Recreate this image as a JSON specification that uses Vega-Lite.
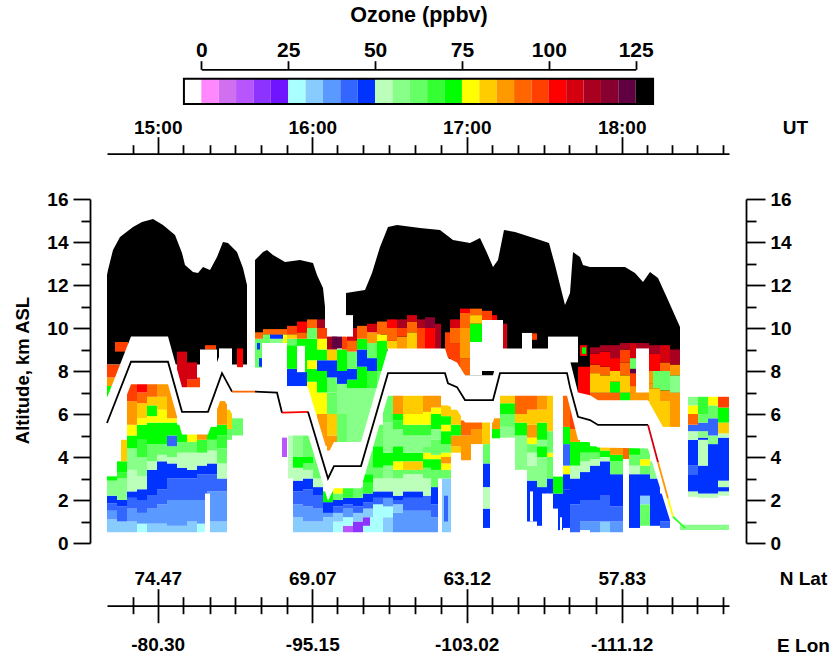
{"$schema":"https://vega.github.io/schema/vega-lite/v6.json","width":622,"height":344,"autosize":{"type":"none"},"padding":{"left":107,"top":199,"right":109,"bottom":114},"background":"white",
"config":{"view":{"stroke":null},"axis":{"grid":false,"labelFont":"Liberation Sans","labelFontWeight":"bold","labelFontSize":19,"labelColor":"black","titleFont":"Liberation Sans","titleFontWeight":"bold","titleFontSize":19,"titleColor":"black","domainColor":"black","tickColor":"black","domainWidth":1.8,"tickWidth":1.8,"labelOverlap":false,"labelFlush":false}},
"resolve":{"scale":{"x":"independent","y":"independent"},"axis":{"x":"independent","y":"independent"}},
"datasets":{
"scale":[{"o":-2.5,"l":-5,"h":0,"p":0,"q":1},{"o":2.5,"l":0,"h":5,"p":0,"q":1},{"o":7.5,"l":5,"h":10,"p":0,"q":1},{"o":12.5,"l":10,"h":15,"p":0,"q":1},{"o":17.5,"l":15,"h":20,"p":0,"q":1},{"o":22.5,"l":20,"h":25,"p":0,"q":1},{"o":27.5,"l":25,"h":30,"p":0,"q":1},{"o":32.5,"l":30,"h":35,"p":0,"q":1},{"o":37.5,"l":35,"h":40,"p":0,"q":1},{"o":42.5,"l":40,"h":45,"p":0,"q":1},{"o":47.5,"l":45,"h":50,"p":0,"q":1},{"o":52.5,"l":50,"h":55,"p":0,"q":1},{"o":57.5,"l":55,"h":60,"p":0,"q":1},{"o":62.5,"l":60,"h":65,"p":0,"q":1},{"o":67.5,"l":65,"h":70,"p":0,"q":1},{"o":72.5,"l":70,"h":75,"p":0,"q":1},{"o":77.5,"l":75,"h":80,"p":0,"q":1},{"o":82.5,"l":80,"h":85,"p":0,"q":1},{"o":87.5,"l":85,"h":90,"p":0,"q":1},{"o":92.5,"l":90,"h":95,"p":0,"q":1},{"o":97.5,"l":95,"h":100,"p":0,"q":1},{"o":102.5,"l":100,"h":105,"p":0,"q":1},{"o":107.5,"l":105,"h":110,"p":0,"q":1},{"o":112.5,"l":110,"h":115,"p":0,"q":1},{"o":117.5,"l":115,"h":120,"p":0,"q":1},{"o":122.5,"l":120,"h":125,"p":0,"q":1},{"o":127.5,"l":125,"h":130,"p":0,"q":1}],
"frame":[{"l":-5,"h":130,"p":0,"q":1}],
"strat":[{"s":1,"t":0,"top":12.47,"bot":8.3},{"s":1,"t":1,"top":12.7,"bot":8.3},{"s":1,"t":6,"top":13.63,"bot":8.3},{"s":1,"t":13,"top":14.23,"bot":8.3},{"s":1,"t":26,"top":14.7,"bot":8.3},{"s":1,"t":35,"top":14.93,"bot":8.3},{"s":1,"t":46,"top":15.07,"bot":8.3},{"s":1,"t":56,"top":14.79,"bot":8.3},{"s":1,"t":68,"top":14.33,"bot":8.3},{"s":1,"t":75,"top":13.49,"bot":8.3},{"s":1,"t":78,"top":12.93,"bot":8.3},{"s":1,"t":86,"top":12.6,"bot":8.3},{"s":1,"t":91,"top":12.56,"bot":8.3},{"s":1,"t":96,"top":12.84,"bot":8.3},{"s":1,"t":103,"top":12.7,"bot":8.3},{"s":1,"t":110,"top":13.3,"bot":8.3},{"s":1,"t":116,"top":14.0,"bot":8.3},{"s":1,"t":121,"top":13.95,"bot":8.3},{"s":1,"t":130,"top":13.53,"bot":8.3},{"s":1,"t":136,"top":12.79,"bot":8.3},{"s":1,"t":140,"top":12.0,"bot":8.3},
{"s":2,"t":148,"top":13.16,"bot":9.7},{"s":2,"t":156,"top":13.53,"bot":9.7},{"s":2,"t":160,"top":13.63,"bot":9.7},{"s":2,"t":166,"top":13.4,"bot":9.7},{"s":2,"t":178,"top":13.07,"bot":9.7},{"s":2,"t":193,"top":13.16,"bot":9.7},{"s":2,"t":206,"top":13.02,"bot":9.7},{"s":2,"t":210,"top":12.47,"bot":9.7},{"s":2,"t":216,"top":11.86,"bot":9.7},{"s":2,"t":218,"top":10.98,"bot":9.7},
{"s":3,"t":239,"top":11.63,"bot":10},{"s":3,"t":258,"top":11.77,"bot":10},{"s":3,"t":265,"top":12.56,"bot":10},{"s":3,"t":273,"top":13.77,"bot":10},{"s":3,"t":281,"top":14.7,"bot":7},{"s":3,"t":290,"top":14.79,"bot":7},{"s":3,"t":313,"top":14.65,"bot":7},{"s":3,"t":333,"top":14.56,"bot":7},{"s":3,"t":346,"top":14.09,"bot":7},{"s":3,"t":363,"top":13.95,"bot":7},{"s":3,"t":373,"top":14.19,"bot":7},{"s":3,"t":380,"top":13.49,"bot":7},{"s":3,"t":386,"top":12.84,"bot":7},{"s":3,"t":391,"top":13.16,"bot":7},{"s":3,"t":397,"top":14.56,"bot":7},{"s":3,"t":408,"top":14.47,"bot":7},{"s":3,"t":433,"top":14.09,"bot":7},{"s":3,"t":442,"top":13.95,"bot":7},{"s":3,"t":448,"top":12.93,"bot":7},{"s":3,"t":458,"top":11.07,"bot":7},{"s":3,"t":463,"top":11.63,"bot":7},{"s":3,"t":466,"top":13.53,"bot":7},{"s":3,"t":473,"top":13.3,"bot":7},{"s":3,"t":476,"top":12.93,"bot":7},{"s":3,"t":483,"top":12.84,"bot":7},{"s":3,"t":518,"top":12.84,"bot":7},{"s":3,"t":528,"top":12.56,"bot":7},{"s":3,"t":536,"top":12.14,"bot":7},{"s":3,"t":543,"top":12.6,"bot":7},{"s":3,"t":551,"top":12.33,"bot":7},{"s":3,"t":561,"top":11.3,"bot":7},{"s":3,"t":573,"top":10.05,"bot":7}],
"band":[{"t":0,"hi":6.75,"lo":4.5},{"t":24,"hi":9.6,"lo":7.38},{"t":61,"hi":9.6,"lo":7.38},{"t":75,"hi":7.25,"lo":5.05},{"t":101,"hi":7.25,"lo":5.05},{"t":115,"hi":9.05,"lo":6.85},{"t":125,"hi":8.19,"lo":6},{"t":155,"hi":8.15,"lo":5.95},{"t":170,"hi":8.15,"lo":5.95},{"t":175,"hi":7.2,"lo":5},{"t":201,"hi":7.25,"lo":5.05},{"t":221,"hi":4.15,"lo":1.95},{"t":227,"hi":4.7,"lo":2.55},{"t":254,"hi":4.7,"lo":2.55},{"t":281,"hi":9.05,"lo":6.85},{"t":338,"hi":9.05,"lo":6.85},{"t":341,"hi":8.6,"lo":6.4},{"t":350,"hi":8.4,"lo":6.2},{"t":358,"hi":7.8,"lo":5.6},{"t":386,"hi":7.8,"lo":5.6},{"t":393,"hi":9.05,"lo":6.85},{"t":460,"hi":9.05,"lo":6.85},{"t":471,"hi":7,"lo":4.8},{"t":483,"hi":6.87,"lo":4.67},{"t":491,"hi":6.64,"lo":4.44},{"t":541,"hi":6.64,"lo":4.4},{"t":556,"hi":5.4,"lo":2.1},{"t":566,"hi":5.4,"lo":0.6},{"t":573,"hi":5.4,"lo":0.85}],
"gaps":[{"t":93,"e":110,"a":7,"b":9},{"t":112,"e":125,"a":8,"b":9.05},{"t":140,"e":148,"a":7,"b":10},{"t":155,"e":180,"a":7,"b":9.3},{"t":190,"e":198,"a":7.95,"b":9.16},{"t":239,"e":246,"a":9.6,"b":10.6},{"t":363,"e":375,"a":7.8,"b":9.35},{"t":375,"e":396,"a":8,"b":10.37},{"t":415,"e":425,"a":9,"b":9.77},{"t":441,"e":471,"a":8.4,"b":9.6},{"t":529,"e":542,"a":7,"b":9.05},{"t":446,"e":456,"a":3.1,"b":6.9},{"t":516,"e":522,"a":0,"b":3.9},{"t":98,"e":103,"a":0.4,"b":2.3},{"t":331,"e":335,"a":0.4,"b":3},{"t":383,"e":385,"a":0.4,"b":5},{"t":435,"e":441,"a":0.5,"b":2.3},{"t":446,"e":451,"a":0.5,"b":1.6},{"t":423,"e":426,"a":1,"b":2.4},{"t":453,"e":455,"a":0.5,"b":1.2},{"t":573,"e":581,"a":0.9,"b":16}],
"flight":[{"g":1,"o":130,"t":0,"k":5.58},{"g":1,"o":130,"t":24,"k":8.43},{"g":1,"o":130,"t":61,"k":8.43},{"g":1,"o":130,"t":75,"k":6.1},{"g":1,"o":130,"t":101,"k":6.1},{"g":1,"o":130,"t":115,"k":7.9},{"g":1,"o":130,"t":125,"k":7.04},{"g":2,"o":92,"t":125,"k":7.04},{"g":2,"o":92,"t":148,"k":7.04},{"g":3,"o":130,"t":148,"k":7.04},{"g":3,"o":130,"t":170,"k":7},{"g":3,"o":130,"t":175,"k":6.06},{"g":4,"o":102,"t":175,"k":6.06},{"g":4,"o":102,"t":201,"k":6.1},{"g":5,"o":130,"t":201,"k":6.1},{"g":5,"o":130,"t":221,"k":3},{"g":5,"o":130,"t":227,"k":3.58},{"g":5,"o":130,"t":254,"k":3.58},{"g":5,"o":130,"t":281,"k":7.9},{"g":5,"o":130,"t":338,"k":7.9},{"g":5,"o":130,"t":341,"k":7.43},{"g":5,"o":130,"t":350,"k":7.25},{"g":5,"o":130,"t":358,"k":6.65},{"g":5,"o":130,"t":386,"k":6.65},{"g":5,"o":130,"t":393,"k":7.9},{"g":5,"o":130,"t":460,"k":7.9},{"g":5,"o":130,"t":463,"k":7.25},{"g":5,"o":130,"t":471,"k":5.87},{"g":5,"o":130,"t":483,"k":5.72},{"g":5,"o":130,"t":491,"k":5.49},{"g":5,"o":130,"t":541,"k":5.49},{"g":6,"o":107,"t":541,"k":5.49},{"g":6,"o":107,"t":551,"k":3.76},{"g":7,"o":87,"t":551,"k":3.76},{"g":7,"o":87,"t":561,"k":2.07},{"g":8,"o":77,"t":561,"k":2.07},{"g":8,"o":77,"t":566,"k":1.22},{"g":9,"o":67,"t":566,"k":1.22},{"g":9,"o":67,"t":578,"k":0.7}],
"cells":[
{"t":0,"e":10,"a":0.5,"b":1.1,"o":32},{"t":0,"e":10,"a":1.1,"b":1.5,"o":37},{"t":0,"e":10,"a":1.5,"b":1.85,"o":42},{"t":0,"e":10,"a":1.85,"b":2.2,"o":47},{"t":0,"e":10,"a":2.2,"b":2.9,"o":55},{"t":0,"e":10,"a":2.9,"b":3.1,"o":72},{"t":0,"e":10,"a":6.8,"b":7.3,"o":72},{"t":0,"e":10,"a":7.3,"b":7.7,"o":87},{"t":0,"e":18,"a":7.7,"b":8.3,"o":97},{"t":8,"e":21,"a":8.9,"b":9.35,"o":97},
{"t":10,"e":20,"a":0.5,"b":1,"o":32},{"t":10,"e":20,"a":1,"b":1.7,"o":42},{"t":10,"e":20,"a":1.7,"b":2,"o":47},{"t":10,"e":20,"a":2,"b":3,"o":57},{"t":10,"e":20,"a":3,"b":3.3,"o":67},{"t":10,"e":20,"a":3.3,"b":3.8,"o":72},{"t":14,"e":20,"a":3.8,"b":4.8,"o":82},
{"t":20,"e":30,"a":0.5,"b":1,"o":32},{"t":20,"e":30,"a":1,"b":1.6,"o":37},{"t":20,"e":30,"a":1.6,"b":2.1,"o":42},{"t":20,"e":30,"a":2.1,"b":2.4,"o":47},{"t":20,"e":30,"a":2.4,"b":3.4,"o":52},{"t":20,"e":30,"a":3.4,"b":4.4,"o":57},{"t":20,"e":30,"a":4.4,"b":5,"o":72},{"t":20,"e":30,"a":5,"b":5.5,"o":77},{"t":20,"e":30,"a":5.5,"b":6.6,"o":87},{"t":20,"e":30,"a":6.6,"b":7.4,"o":97},
{"t":30,"e":40,"a":0.5,"b":0.9,"o":27},{"t":30,"e":40,"a":0.9,"b":1.4,"o":37},{"t":30,"e":40,"a":1.4,"b":2,"o":42},{"t":30,"e":40,"a":2,"b":2.5,"o":47},{"t":30,"e":40,"a":2.5,"b":3.1,"o":52},{"t":30,"e":40,"a":3.1,"b":4,"o":57},{"t":30,"e":40,"a":4,"b":4.8,"o":67},{"t":30,"e":40,"a":4.8,"b":5.5,"o":72},{"t":30,"e":40,"a":5.5,"b":5.8,"o":77},{"t":30,"e":40,"a":5.8,"b":6.5,"o":82},{"t":30,"e":40,"a":6.5,"b":7,"o":92},{"t":30,"e":40,"a":7,"b":7.4,"o":102},
{"t":40,"e":50,"a":0.5,"b":0.9,"o":32},{"t":40,"e":50,"a":0.9,"b":1.6,"o":37},{"t":40,"e":50,"a":1.6,"b":2.2,"o":42},{"t":40,"e":50,"a":2.2,"b":3.4,"o":47},{"t":40,"e":50,"a":3.4,"b":3.8,"o":52},{"t":40,"e":50,"a":3.8,"b":4.6,"o":62},{"t":40,"e":50,"a":4.6,"b":5.6,"o":72},{"t":40,"e":50,"a":5.6,"b":5.9,"o":77},{"t":40,"e":50,"a":5.9,"b":6.4,"o":72},{"t":40,"e":50,"a":6.4,"b":6.8,"o":82},{"t":40,"e":50,"a":6.8,"b":7.4,"o":92},
{"t":50,"e":60,"a":0.5,"b":0.9,"o":32},{"t":50,"e":60,"a":0.9,"b":1.8,"o":37},{"t":50,"e":60,"a":1.8,"b":2.5,"o":42},{"t":50,"e":60,"a":2.5,"b":3.8,"o":47},{"t":50,"e":60,"a":3.8,"b":4.1,"o":52},{"t":50,"e":60,"a":4.1,"b":4.6,"o":62},{"t":50,"e":60,"a":4.6,"b":5.6,"o":72},{"t":50,"e":60,"a":5.6,"b":6.2,"o":77},{"t":50,"e":60,"a":6.2,"b":6.8,"o":82},{"t":50,"e":60,"a":6.8,"b":7.4,"o":87},
{"t":60,"e":70,"a":0.5,"b":0.8,"o":32},{"t":60,"e":70,"a":0.8,"b":2,"o":37},{"t":60,"e":70,"a":2,"b":3,"o":42},{"t":60,"e":70,"a":3,"b":3.7,"o":47},{"t":60,"e":70,"a":3.7,"b":4,"o":52},{"t":60,"e":70,"a":4,"b":4.5,"o":62},{"t":60,"e":70,"a":4.5,"b":5,"o":42},{"t":60,"e":70,"a":5,"b":5.6,"o":72},{"t":60,"e":70,"a":5.6,"b":5.8,"o":77},{"t":60,"e":70,"a":5.8,"b":7.4,"o":87},
{"t":70,"e":80,"a":0.5,"b":0.8,"o":32},{"t":70,"e":80,"a":0.8,"b":2,"o":37},{"t":70,"e":80,"a":2,"b":3,"o":42},{"t":70,"e":80,"a":3,"b":3.5,"o":47},{"t":70,"e":80,"a":3.5,"b":4.2,"o":52},{"t":70,"e":80,"a":4.2,"b":4.7,"o":62},{"t":70,"e":80,"a":4.7,"b":5.5,"o":72},{"t":70,"e":80,"a":7.2,"b":8.9,"o":107},
{"t":80,"e":90,"a":0.5,"b":1,"o":32},{"t":80,"e":90,"a":1,"b":2,"o":37},{"t":80,"e":90,"a":2,"b":3,"o":42},{"t":80,"e":90,"a":3,"b":3.4,"o":47},{"t":80,"e":90,"a":3.4,"b":4.2,"o":52},{"t":80,"e":90,"a":4.2,"b":4.7,"o":62},{"t":80,"e":90,"a":4.7,"b":5.1,"o":77},{"t":80,"e":90,"a":7.2,"b":7.6,"o":97},{"t":80,"e":90,"a":7.6,"b":8.4,"o":105},
{"t":90,"e":100,"a":0.5,"b":0.9,"o":27},{"t":90,"e":100,"a":0.9,"b":2,"o":37},{"t":90,"e":100,"a":2,"b":3.2,"o":42},{"t":90,"e":100,"a":3.2,"b":3.6,"o":47},{"t":90,"e":100,"a":3.6,"b":4.2,"o":52},{"t":90,"e":100,"a":4.2,"b":4.8,"o":67},{"t":90,"e":100,"a":4.8,"b":5.1,"o":87},{"t":90,"e":96,"a":7,"b":7.7,"o":95},{"t":98,"e":109,"a":9,"b":9.2,"o":97},
{"t":100,"e":110,"a":0.5,"b":1,"o":30},{"t":100,"e":110,"a":1,"b":2.4,"o":37},{"t":100,"e":110,"a":2.4,"b":3.2,"o":42},{"t":100,"e":110,"a":3.2,"b":3.7,"o":47},{"t":100,"e":110,"a":3.7,"b":4.3,"o":52},{"t":100,"e":110,"a":4.3,"b":4.8,"o":62},{"t":100,"e":110,"a":4.8,"b":5.4,"o":72},
{"t":110,"e":120,"a":0.5,"b":1,"o":32},{"t":110,"e":120,"a":1,"b":2.4,"o":37},{"t":110,"e":120,"a":2.4,"b":3,"o":42},{"t":110,"e":120,"a":3,"b":3.7,"o":52},{"t":110,"e":120,"a":3.7,"b":4.4,"o":62},{"t":110,"e":120,"a":4.4,"b":5,"o":67},{"t":110,"e":120,"a":5,"b":5.5,"o":72},{"t":110,"e":120,"a":5.5,"b":6.6,"o":87},
{"t":120,"e":125,"a":4.8,"b":5.3,"o":62},{"t":120,"e":125,"a":5.3,"b":6.2,"o":82},{"t":125,"e":136,"a":5,"b":5.8,"o":62},{"t":130,"e":136,"a":8.1,"b":9.05,"o":102},
{"t":148,"e":156,"a":8.1,"b":9.5,"o":62},{"t":148,"e":156,"a":9.5,"b":9.8,"o":92},{"t":152,"e":156,"a":8.2,"b":8.6,"o":47},{"t":150,"e":153,"a":9,"b":9.3,"o":47},
{"t":156,"e":163,"a":9.3,"b":9.7,"o":62},{"t":163,"e":176,"a":9.3,"b":9.5,"o":57},{"t":163,"e":176,"a":9.5,"b":9.7,"o":47},{"t":176,"e":180,"a":9.3,"b":9.7,"o":77},{"t":156,"e":180,"a":9.7,"b":9.95,"o":92},
{"t":181,"e":186,"a":3,"b":5,"o":52},{"t":175,"e":180,"a":4,"b":4.9,"o":12},
{"t":180,"e":190,"a":7.3,"b":8.1,"o":47},{"t":180,"e":190,"a":8.1,"b":9.2,"o":72},{"t":180,"e":190,"a":9.2,"b":9.5,"o":62},{"t":180,"e":190,"a":9.5,"b":9.7,"o":82},{"t":180,"e":190,"a":9.7,"b":10.1,"o":97},
{"t":190,"e":200,"a":7.3,"b":7.95,"o":47},{"t":190,"e":200,"a":7.95,"b":9.2,"o":72},{"t":190,"e":200,"a":9.2,"b":9.5,"o":72},{"t":190,"e":200,"a":9.5,"b":9.8,"o":92},{"t":190,"e":200,"a":9.8,"b":10.3,"o":102},
{"t":200,"e":210,"a":5.5,"b":7.5,"o":77},{"t":200,"e":210,"a":7.5,"b":8.1,"o":72},{"t":200,"e":210,"a":8.1,"b":8.5,"o":77},{"t":200,"e":210,"a":8.5,"b":9.5,"o":72},{"t":200,"e":210,"a":9.5,"b":10,"o":62},{"t":200,"e":210,"a":10,"b":10.4,"o":92},
{"t":210,"e":220,"a":4.5,"b":6,"o":87},{"t":210,"e":220,"a":6,"b":7,"o":77},{"t":210,"e":220,"a":7,"b":8,"o":72},{"t":210,"e":220,"a":8,"b":8.5,"o":47},{"t":210,"e":220,"a":8.5,"b":9,"o":72},{"t":210,"e":220,"a":9,"b":9.5,"o":77},{"t":210,"e":220,"a":9.5,"b":10,"o":97},{"t":210,"e":218,"a":10,"b":10.4,"o":112},
{"t":220,"e":230,"a":4.3,"b":5,"o":87},{"t":220,"e":230,"a":5,"b":6,"o":80},{"t":220,"e":230,"a":6,"b":7,"o":60},{"t":220,"e":230,"a":7,"b":7.7,"o":62},{"t":220,"e":230,"a":7.7,"b":8.5,"o":47},{"t":220,"e":230,"a":8.5,"b":9,"o":82},{"t":220,"e":230,"a":9,"b":9.6,"o":112},{"t":225,"e":235,"a":9.05,"b":9.6,"o":122},
{"t":230,"e":240,"a":4.7,"b":6,"o":62},{"t":230,"e":240,"a":6,"b":7.4,"o":57},{"t":230,"e":240,"a":7.4,"b":8,"o":47},{"t":230,"e":240,"a":8,"b":9,"o":72},{"t":235,"e":240,"a":9,"b":9.6,"o":97},
{"t":240,"e":250,"a":4.7,"b":7.2,"o":57},{"t":240,"e":250,"a":7.2,"b":7.6,"o":72},{"t":240,"e":250,"a":7.6,"b":8.1,"o":47},{"t":240,"e":250,"a":8.1,"b":8.9,"o":62},{"t":240,"e":250,"a":8.9,"b":9.4,"o":92},{"t":240,"e":250,"a":9.4,"b":10,"o":107},
{"t":250,"e":260,"a":4.7,"b":7.2,"o":57},{"t":250,"e":260,"a":7.2,"b":8.2,"o":72},{"t":250,"e":260,"a":8.2,"b":9,"o":47},{"t":250,"e":260,"a":9,"b":9.5,"o":72},{"t":250,"e":260,"a":9.5,"b":10.1,"o":92},
{"t":260,"e":270,"a":5,"b":7.2,"o":57},{"t":260,"e":270,"a":7.2,"b":8,"o":67},{"t":260,"e":270,"a":8,"b":8.6,"o":47},{"t":260,"e":270,"a":8.6,"b":9.3,"o":62},{"t":260,"e":270,"a":9.3,"b":9.8,"o":87},{"t":260,"e":270,"a":9.8,"b":10.2,"o":107},
{"t":270,"e":280,"a":7,"b":8,"o":62},{"t":270,"e":280,"a":8,"b":9.4,"o":72},{"t":270,"e":280,"a":9.4,"b":9.7,"o":77},{"t":270,"e":280,"a":9.7,"b":10.3,"o":92},
{"t":280,"e":290,"a":9,"b":9.4,"o":82},{"t":280,"e":290,"a":9.4,"b":10,"o":92},{"t":280,"e":290,"a":10,"b":10.4,"o":102},
{"t":290,"e":300,"a":9,"b":9.6,"o":87},{"t":290,"e":300,"a":9.6,"b":10,"o":97},{"t":290,"e":300,"a":10,"b":10.4,"o":112},
{"t":300,"e":310,"a":9,"b":9.8,"o":82},{"t":300,"e":310,"a":9.8,"b":10.3,"o":92},{"t":300,"e":310,"a":10.3,"b":10.6,"o":107},
{"t":310,"e":318,"a":9,"b":10,"o":97},{"t":310,"e":318,"a":10,"b":10.4,"o":112},{"t":318,"e":328,"a":9,"b":10,"o":100},{"t":318,"e":328,"a":10,"b":10.5,"o":117},{"t":328,"e":334,"a":9,"b":10.2,"o":110},
{"t":338,"e":343,"a":8.6,"b":9.8,"o":97},{"t":343,"e":353,"a":8.2,"b":9.3,"o":97},{"t":343,"e":353,"a":9.3,"b":10,"o":90},{"t":343,"e":353,"a":10,"b":10.4,"o":105},
{"t":353,"e":363,"a":7.8,"b":8.6,"o":92},{"t":353,"e":363,"a":8.6,"b":10,"o":87},{"t":353,"e":363,"a":10,"b":10.7,"o":92},{"t":353,"e":363,"a":10.7,"b":10.9,"o":102},
{"t":363,"e":375,"a":9.35,"b":10.2,"o":72},{"t":363,"e":375,"a":10.2,"b":10.6,"o":82},{"t":363,"e":375,"a":10.6,"b":10.9,"o":92},{"t":375,"e":385,"a":10.37,"b":10.8,"o":97},{"t":385,"e":390,"a":10.37,"b":10.6,"o":102},{"t":396,"e":400,"a":9,"b":10.2,"o":107},{"t":425,"e":430,"a":9.45,"b":9.75,"o":97},
{"t":186,"e":196,"a":0.5,"b":1.2,"o":32},{"t":186,"e":196,"a":1.2,"b":1.8,"o":37},{"t":186,"e":196,"a":1.8,"b":2.4,"o":42},{"t":186,"e":196,"a":2.4,"b":2.9,"o":47},{"t":186,"e":196,"a":2.9,"b":3.5,"o":52},{"t":186,"e":196,"a":3.5,"b":4,"o":72},{"t":186,"e":196,"a":4,"b":5,"o":57},
{"t":196,"e":206,"a":0.5,"b":1,"o":32},{"t":196,"e":206,"a":1,"b":1.7,"o":37},{"t":196,"e":206,"a":1.7,"b":2.5,"o":42},{"t":196,"e":206,"a":2.5,"b":3,"o":47},{"t":196,"e":206,"a":3,"b":3.4,"o":52},{"t":196,"e":206,"a":3.4,"b":3.7,"o":62},{"t":196,"e":206,"a":3.7,"b":4,"o":72},{"t":196,"e":206,"a":4,"b":5,"o":62},
{"t":206,"e":216,"a":0.5,"b":1,"o":30},{"t":206,"e":216,"a":1,"b":1.6,"o":37},{"t":206,"e":216,"a":1.6,"b":2.2,"o":42},{"t":206,"e":216,"a":2.2,"b":2.6,"o":47},{"t":206,"e":216,"a":2.6,"b":3,"o":52},{"t":206,"e":216,"a":3,"b":4.3,"o":62},
{"t":216,"e":226,"a":0.5,"b":1.2,"o":30},{"t":216,"e":226,"a":1.2,"b":1.4,"o":37},{"t":216,"e":226,"a":1.4,"b":1.9,"o":47},{"t":216,"e":226,"a":1.9,"b":2.4,"o":72},
{"t":226,"e":236,"a":0.5,"b":1,"o":27},{"t":226,"e":236,"a":1,"b":1.4,"o":32},{"t":226,"e":236,"a":1.4,"b":1.7,"o":42},{"t":226,"e":236,"a":1.7,"b":2,"o":47},{"t":226,"e":236,"a":2,"b":2.3,"o":62},{"t":226,"e":236,"a":2.3,"b":2.6,"o":77},
{"t":236,"e":246,"a":0.5,"b":0.8,"o":12},{"t":236,"e":246,"a":0.8,"b":1.2,"o":27},{"t":236,"e":246,"a":1.2,"b":1.6,"o":37},{"t":236,"e":246,"a":1.6,"b":1.8,"o":42},{"t":236,"e":246,"a":1.8,"b":2.1,"o":47},{"t":236,"e":246,"a":2.1,"b":2.6,"o":67},
{"t":246,"e":256,"a":0.5,"b":1,"o":15},{"t":246,"e":256,"a":1,"b":1.4,"o":32},{"t":246,"e":256,"a":1.4,"b":1.7,"o":42},{"t":246,"e":256,"a":1.7,"b":2.1,"o":47},{"t":246,"e":256,"a":2.1,"b":2.6,"o":62},
{"t":256,"e":266,"a":0.5,"b":0.8,"o":27},{"t":256,"e":263,"a":0.8,"b":1.2,"o":15},{"t":263,"e":266,"a":0.8,"b":1.2,"o":27},{"t":256,"e":266,"a":1.2,"b":1.6,"o":32},{"t":256,"e":266,"a":1.6,"b":1.9,"o":42},{"t":256,"e":266,"a":1.9,"b":2.3,"o":47},{"t":256,"e":266,"a":2.3,"b":2.8,"o":67},{"t":256,"e":266,"a":2.8,"b":3.2,"o":72},{"t":256,"e":266,"a":3.2,"b":4.3,"o":62},
{"t":266,"e":276,"a":0.5,"b":1.2,"o":27},{"t":266,"e":276,"a":1.2,"b":1.8,"o":27},{"t":266,"e":276,"a":1.8,"b":2.1,"o":42},{"t":266,"e":276,"a":2.1,"b":2.4,"o":47},{"t":266,"e":276,"a":2.4,"b":3,"o":52},{"t":266,"e":276,"a":3,"b":3.5,"o":62},{"t":266,"e":276,"a":3.5,"b":4.5,"o":72},{"t":266,"e":276,"a":4.5,"b":5.5,"o":62},
{"t":276,"e":286,"a":0.5,"b":1.2,"o":32},{"t":276,"e":286,"a":1.2,"b":1.7,"o":27},{"t":276,"e":286,"a":1.7,"b":2.1,"o":37},{"t":276,"e":286,"a":2.1,"b":2.4,"o":47},{"t":276,"e":286,"a":2.4,"b":3,"o":52},{"t":276,"e":286,"a":3,"b":3.6,"o":57},{"t":276,"e":286,"a":3.6,"b":4.2,"o":72},{"t":276,"e":286,"a":4.2,"b":5.6,"o":57},{"t":276,"e":286,"a":5.6,"b":6.9,"o":62},
{"t":286,"e":296,"a":0.5,"b":1.4,"o":37},{"t":286,"e":296,"a":1.4,"b":1.8,"o":32},{"t":286,"e":296,"a":1.8,"b":2,"o":42},{"t":286,"e":296,"a":2,"b":2.2,"o":47},{"t":286,"e":296,"a":2.2,"b":3,"o":52},{"t":286,"e":296,"a":3,"b":3.4,"o":62},{"t":286,"e":296,"a":3.4,"b":3.8,"o":77},{"t":286,"e":296,"a":3.8,"b":4.5,"o":72},{"t":286,"e":296,"a":4.5,"b":5.3,"o":57},{"t":286,"e":296,"a":5.3,"b":5.7,"o":67},{"t":286,"e":296,"a":5.7,"b":6,"o":72},{"t":286,"e":296,"a":6,"b":6.9,"o":87},
{"t":296,"e":316,"a":0.5,"b":1.5,"o":37},{"t":296,"e":316,"a":1.5,"b":2.1,"o":42},{"t":296,"e":316,"a":2.1,"b":2.4,"o":47},{"t":296,"e":316,"a":2.4,"b":3.2,"o":52},{"t":296,"e":316,"a":3.2,"b":3.4,"o":62},{"t":296,"e":316,"a":3.4,"b":3.8,"o":82},{"t":296,"e":316,"a":3.8,"b":4.2,"o":72},{"t":296,"e":316,"a":4.2,"b":5,"o":57},{"t":296,"e":316,"a":5,"b":5.5,"o":67},{"t":296,"e":316,"a":5.5,"b":6,"o":77},{"t":296,"e":316,"a":6,"b":6.9,"o":82},
{"t":316,"e":324,"a":0.5,"b":1.5,"o":37},{"t":316,"e":324,"a":1.5,"b":2.2,"o":42},{"t":316,"e":324,"a":2.2,"b":3,"o":52},{"t":316,"e":324,"a":3,"b":3.5,"o":62},{"t":316,"e":324,"a":3.5,"b":3.9,"o":72},{"t":316,"e":324,"a":3.9,"b":4.2,"o":77},{"t":316,"e":324,"a":4.2,"b":4.5,"o":62},{"t":316,"e":324,"a":4.5,"b":5,"o":57},{"t":316,"e":324,"a":5,"b":5.5,"o":67},{"t":316,"e":324,"a":5.5,"b":6.1,"o":77},{"t":316,"e":324,"a":6.1,"b":6.9,"o":87},
{"t":324,"e":334,"a":0.5,"b":1.2,"o":37},{"t":324,"e":334,"a":1.2,"b":1.8,"o":42},{"t":324,"e":334,"a":1.8,"b":2.6,"o":47},{"t":324,"e":334,"a":2.6,"b":3.4,"o":62},{"t":324,"e":334,"a":3.4,"b":3.9,"o":72},{"t":324,"e":334,"a":3.9,"b":4.1,"o":77},{"t":324,"e":334,"a":4.1,"b":4.8,"o":62},{"t":324,"e":334,"a":4.8,"b":5.3,"o":57},{"t":324,"e":334,"a":5.3,"b":6,"o":72},{"t":324,"e":334,"a":6,"b":6.3,"o":77},{"t":324,"e":334,"a":6.3,"b":6.9,"o":87},
{"t":334,"e":344,"a":0.5,"b":3,"o":32},{"t":334,"e":344,"a":3,"b":3.4,"o":62},{"t":334,"e":344,"a":3.4,"b":3.7,"o":77},{"t":334,"e":344,"a":3.7,"b":4,"o":87},{"t":334,"e":344,"a":4,"b":4.2,"o":77},{"t":334,"e":344,"a":4.2,"b":4.6,"o":62},{"t":334,"e":344,"a":4.6,"b":5.2,"o":72},{"t":334,"e":344,"a":5.2,"b":5.5,"o":77},{"t":334,"e":344,"a":5.5,"b":5.9,"o":72},{"t":334,"e":344,"a":5.9,"b":6.4,"o":82},{"t":337,"e":341,"a":1,"b":2.2,"o":42},
{"t":344,"e":354,"a":4.2,"b":4.5,"o":82},{"t":344,"e":354,"a":4.5,"b":5,"o":87},{"t":344,"e":354,"a":5,"b":5.5,"o":72},{"t":344,"e":354,"a":5.5,"b":6.2,"o":82},
{"t":354,"e":364,"a":3.85,"b":5,"o":87},{"t":354,"e":364,"a":5,"b":5.7,"o":92},{"t":364,"e":375,"a":4.6,"b":5.3,"o":87},{"t":364,"e":375,"a":5.3,"b":5.7,"o":92},
{"t":376,"e":383,"a":0.7,"b":1.6,"o":47},{"t":376,"e":383,"a":1.6,"b":2.6,"o":52},{"t":376,"e":383,"a":2.6,"b":3.7,"o":47},{"t":376,"e":383,"a":3.7,"b":4.6,"o":62},{"t":375,"e":383,"a":4.6,"b":5.7,"o":82},
{"t":385,"e":393,"a":4.87,"b":5.3,"o":72},{"t":385,"e":393,"a":5.3,"b":5.8,"o":87},
{"t":393,"e":408,"a":4.9,"b":5.4,"o":57},{"t":393,"e":408,"a":5.4,"b":6,"o":62},{"t":393,"e":408,"a":6,"b":6.5,"o":72},{"t":393,"e":408,"a":6.5,"b":6.9,"o":82},
{"t":408,"e":420,"a":3.4,"b":5,"o":57},{"t":408,"e":420,"a":5,"b":5.6,"o":72},{"t":408,"e":420,"a":5.6,"b":6,"o":82},{"t":408,"e":420,"a":6,"b":6.9,"o":92},
{"t":420,"e":430,"a":1,"b":2.9,"o":47},{"t":420,"e":430,"a":2.9,"b":3.6,"o":57},{"t":420,"e":430,"a":3.6,"b":4.2,"o":52},{"t":420,"e":430,"a":4.2,"b":4.6,"o":62},{"t":420,"e":430,"a":4.6,"b":4.9,"o":77},{"t":420,"e":430,"a":4.9,"b":5.5,"o":87},{"t":420,"e":430,"a":5.5,"b":6.2,"o":82},{"t":420,"e":430,"a":6.2,"b":6.9,"o":92},
{"t":430,"e":440,"a":0.8,"b":2.6,"o":47},{"t":430,"e":440,"a":2.6,"b":4,"o":57},{"t":430,"e":440,"a":4,"b":4.5,"o":72},{"t":430,"e":440,"a":4.5,"b":4.8,"o":57},{"t":430,"e":440,"a":4.8,"b":5.6,"o":72},{"t":430,"e":440,"a":5.6,"b":6.2,"o":82},{"t":430,"e":440,"a":6.2,"b":6.9,"o":87},
{"t":440,"e":446,"a":2.3,"b":3,"o":47},{"t":440,"e":446,"a":3,"b":4,"o":62},{"t":440,"e":446,"a":4,"b":4.2,"o":77},{"t":440,"e":446,"a":4.2,"b":5.2,"o":62},{"t":440,"e":446,"a":5.2,"b":6.9,"o":82},{"t":446,"e":456,"a":0.6,"b":2.3,"o":47},{"t":446,"e":456,"a":2.3,"b":3.1,"o":72},
{"t":456,"e":463,"a":0.7,"b":2.5,"o":47},{"t":456,"e":463,"a":2.5,"b":3.2,"o":47},{"t":456,"e":463,"a":3.2,"b":3.6,"o":77},{"t":456,"e":463,"a":3.6,"b":4.6,"o":42},{"t":456,"e":463,"a":4.6,"b":5.4,"o":72},{"t":456,"e":463,"a":5.4,"b":6.9,"o":92},
{"t":463,"e":473,"a":0.5,"b":1.8,"o":42},{"t":463,"e":473,"a":1.8,"b":3,"o":47},{"t":463,"e":473,"a":3,"b":3.6,"o":52},{"t":463,"e":473,"a":3.6,"b":4.7,"o":72},{"t":463,"e":473,"a":4.7,"b":5.3,"o":87},{"t":463,"e":471,"a":5.3,"b":6.9,"o":97},
{"t":473,"e":483,"a":0.6,"b":1,"o":37},{"t":473,"e":483,"a":1,"b":2,"o":42},{"t":473,"e":483,"a":2,"b":3.3,"o":47},{"t":473,"e":483,"a":3.3,"b":3.8,"o":52},{"t":473,"e":483,"a":3.8,"b":4.2,"o":62},{"t":473,"e":483,"a":4.2,"b":4.7,"o":72},
{"t":483,"e":493,"a":0.5,"b":1,"o":37},{"t":483,"e":493,"a":1,"b":2,"o":42},{"t":483,"e":493,"a":2,"b":3.6,"o":47},{"t":483,"e":493,"a":3.6,"b":3.9,"o":52},{"t":483,"e":493,"a":3.9,"b":4.2,"o":62},{"t":483,"e":493,"a":4.2,"b":4.5,"o":72},
{"t":493,"e":503,"a":0.5,"b":1,"o":32},{"t":493,"e":503,"a":1,"b":2.2,"o":42},{"t":493,"e":503,"a":2.2,"b":3.8,"o":47},{"t":493,"e":503,"a":3.8,"b":4,"o":52},{"t":493,"e":503,"a":4,"b":4.3,"o":72},{"t":493,"e":503,"a":4.3,"b":4.5,"o":82},
{"t":503,"e":516,"a":0.5,"b":1,"o":37},{"t":503,"e":516,"a":1,"b":1.7,"o":42},{"t":503,"e":516,"a":1.7,"b":3.2,"o":47},{"t":503,"e":516,"a":3.2,"b":3.8,"o":62},{"t":503,"e":516,"a":3.8,"b":4.1,"o":72},{"t":503,"e":516,"a":4.1,"b":4.5,"o":87},{"t":516,"e":522,"a":3.9,"b":4.5,"o":92},
{"t":522,"e":533,"a":0.7,"b":3.2,"o":47},{"t":522,"e":533,"a":3.2,"b":3.6,"o":52},{"t":522,"e":533,"a":3.6,"b":4.1,"o":62},{"t":522,"e":533,"a":4.1,"b":4.5,"o":72},
{"t":533,"e":543,"a":0.8,"b":1.8,"o":62},{"t":533,"e":543,"a":1.8,"b":2.2,"o":32},{"t":533,"e":543,"a":2.2,"b":3.2,"o":47},{"t":533,"e":543,"a":3.2,"b":3.6,"o":62},{"t":533,"e":543,"a":3.6,"b":3.9,"o":77},{"t":533,"e":543,"a":3.9,"b":4.5,"o":62},
{"t":543,"e":553,"a":0.8,"b":3,"o":47},{"t":543,"e":553,"a":3,"b":3.8,"o":57},{"t":553,"e":563,"a":0.7,"b":1,"o":42},{"t":553,"e":563,"a":1,"b":2.3,"o":47},
{"t":471,"e":483,"a":6.8,"b":8.2,"o":100},{"t":473,"e":480,"a":8.7,"b":9.2,"o":102},{"t":475,"e":479,"a":8.8,"b":9.1,"o":72},
{"t":483,"e":493,"a":6.6,"b":7,"o":92},{"t":483,"e":493,"a":7,"b":7.9,"o":82},{"t":483,"e":493,"a":7.9,"b":8.3,"o":92},{"t":483,"e":493,"a":8.3,"b":8.8,"o":102},{"t":483,"e":493,"a":8.8,"b":9.1,"o":112},
{"t":493,"e":503,"a":6.6,"b":7,"o":92},{"t":493,"e":503,"a":7,"b":7.8,"o":80},{"t":493,"e":503,"a":7.8,"b":8.2,"o":92},{"t":493,"e":503,"a":8.2,"b":8.9,"o":102},{"t":493,"e":503,"a":8.9,"b":9.2,"o":112},
{"t":503,"e":513,"a":6.6,"b":7,"o":92},{"t":503,"e":513,"a":7,"b":7.5,"o":72},{"t":503,"e":513,"a":7.5,"b":8,"o":82},{"t":503,"e":513,"a":8,"b":8.6,"o":102},{"t":503,"e":513,"a":8.6,"b":9.2,"o":112},
{"t":513,"e":523,"a":6.6,"b":7,"o":72},{"t":513,"e":523,"a":7,"b":7.8,"o":82},{"t":513,"e":523,"a":7.8,"b":8.4,"o":92},{"t":513,"e":523,"a":8.4,"b":9,"o":97},{"t":513,"e":523,"a":9,"b":9.3,"o":112},
{"t":523,"e":529,"a":6.6,"b":7.3,"o":87},{"t":523,"e":529,"a":7.3,"b":7.9,"o":97},{"t":523,"e":529,"a":7.9,"b":8.1,"o":122},{"t":523,"e":529,"a":8.1,"b":8.6,"o":62},{"t":523,"e":529,"a":8.6,"b":9.3,"o":107},
{"t":529,"e":542,"a":6.6,"b":7.1,"o":87},{"t":529,"e":542,"a":9,"b":9.3,"o":112},
{"t":542,"e":553,"a":5.3,"b":7.2,"o":82},{"t":542,"e":553,"a":7.2,"b":7.4,"o":87},{"t":546,"e":553,"a":7.2,"b":8,"o":62},{"t":542,"e":546,"a":7.4,"b":8,"o":87},{"t":542,"e":553,"a":8,"b":8.8,"o":102},{"t":542,"e":553,"a":8.8,"b":9.2,"o":112},
{"t":553,"e":563,"a":5.4,"b":6.6,"o":82},{"t":553,"e":563,"a":6.6,"b":7.1,"o":87},{"t":553,"e":563,"a":7.1,"b":8,"o":62},{"t":553,"e":563,"a":8,"b":8.4,"o":92},{"t":553,"e":563,"a":8.4,"b":9.2,"o":107},
{"t":563,"e":573,"a":5.4,"b":7,"o":87},{"t":563,"e":573,"a":7,"b":7.8,"o":57},{"t":563,"e":573,"a":7.8,"b":8.3,"o":87},{"t":563,"e":573,"a":8.3,"b":9,"o":112},
{"t":573,"e":622,"a":0.6,"b":0.85,"o":57},
{"t":581,"e":591,"a":2.15,"b":2.4,"o":52},{"t":581,"e":591,"a":2.4,"b":3.2,"o":47},{"t":581,"e":591,"a":3.2,"b":3.6,"o":42},{"t":581,"e":591,"a":3.6,"b":4.8,"o":47},{"t":581,"e":591,"a":4.8,"b":5.2,"o":52},{"t":581,"e":591,"a":5.2,"b":5.5,"o":42},{"t":581,"e":591,"a":5.5,"b":6,"o":92},{"t":581,"e":591,"a":6,"b":6.4,"o":77},{"t":581,"e":591,"a":6.4,"b":6.8,"o":57},
{"t":591,"e":601,"a":2.1,"b":2.3,"o":52},{"t":591,"e":601,"a":2.3,"b":3.6,"o":47},{"t":591,"e":601,"a":3.6,"b":4.8,"o":52},{"t":591,"e":601,"a":4.8,"b":4.9,"o":47},{"t":591,"e":601,"a":4.9,"b":5.2,"o":57},{"t":591,"e":601,"a":5.2,"b":5.6,"o":42},{"t":591,"e":601,"a":5.6,"b":6,"o":62},{"t":591,"e":601,"a":6,"b":6.8,"o":67},
{"t":601,"e":611,"a":2.1,"b":2.3,"o":52},{"t":601,"e":611,"a":2.3,"b":4.6,"o":47},{"t":601,"e":611,"a":4.6,"b":5,"o":57},{"t":601,"e":611,"a":5,"b":5.8,"o":42},{"t":601,"e":611,"a":5.8,"b":6.4,"o":62},{"t":601,"e":611,"a":6.4,"b":6.8,"o":77},
{"t":611,"e":622,"a":2.2,"b":2.4,"o":52},{"t":611,"e":622,"a":2.4,"b":2.6,"o":47},{"t":611,"e":622,"a":2.6,"b":2.9,"o":52},{"t":611,"e":622,"a":2.9,"b":4.9,"o":47},{"t":611,"e":622,"a":4.9,"b":5.1,"o":52},{"t":611,"e":622,"a":5.1,"b":5.6,"o":82},{"t":611,"e":622,"a":5.6,"b":6.3,"o":72},{"t":611,"e":622,"a":6.3,"b":6.8,"o":97}],
"x0":[{"t":0}],"y0":[{"k":0}]},
"layer":[
{"data":{"name":"strat"},"mark":{"type":"area","fill":"black"},"encoding":{"x":{"field":"t","type":"quantitative","scale":{"domain":[0,622],"nice":false,"zero":false},"axis":null},"y":{"field":"top","type":"quantitative","scale":{"domain":[0,16],"nice":false},"axis":null},"y2":{"field":"bot"},"detail":{"field":"s"}}},
{"data":{"name":"cells"},"mark":{"type":"rect"},"encoding":{"x":{"field":"t","type":"quantitative","scale":{"domain":[0,622],"nice":false,"zero":false},"axis":null},"x2":{"field":"e"},"y":{"field":"a","type":"quantitative","scale":{"domain":[0,16],"nice":false},"axis":null},"y2":{"field":"b"},"color":{"field":"o","type":"quantitative","legend":null,"scale":{"type":"threshold","domain":[0,5,10,15,20,25,30,35,40,45,50,55,60,65,70,75,80,85,90,95,100,105,110,115,120,125],"range":["#ffffff","#ff88ff","#d070f0","#b855ff","#8c33ff","#7014ff","#aaffff","#88ccff","#5a99ff","#3366ff","#0033ff","#bbffbb","#88ff88","#66ff66","#33ff33","#00ff00","#ffff00","#ffcc00","#ff9900","#ff6600","#ff4000","#ff0000","#d40010","#aa0020","#880030","#600040","#000000"]}}}},
{"data":{"name":"band"},"mark":{"type":"area","fill":"white"},"encoding":{"x":{"field":"t","type":"quantitative","scale":{"domain":[0,622],"nice":false,"zero":false},"axis":null},"y":{"field":"hi","type":"quantitative","scale":{"domain":[0,16],"nice":false},"axis":null},"y2":{"field":"lo"}}},
{"data":{"name":"gaps"},"mark":{"type":"rect","fill":"white"},"encoding":{"x":{"field":"t","type":"quantitative","scale":{"domain":[0,622],"nice":false,"zero":false},"axis":null},"x2":{"field":"e"},"y":{"field":"a","type":"quantitative","scale":{"domain":[0,16],"nice":false},"axis":null},"y2":{"field":"b"}}},
{"data":{"name":"flight"},"mark":{"type":"line","strokeWidth":1.8},"encoding":{"x":{"field":"t","type":"quantitative","scale":{"domain":[0,622],"nice":false,"zero":false},"axis":null},"y":{"field":"k","type":"quantitative","scale":{"domain":[0,16],"nice":false},"axis":null},"detail":{"field":"g"},"color":{"field":"o","type":"quantitative","legend":null,"scale":{"type":"threshold","domain":[0,5,10,15,20,25,30,35,40,45,50,55,60,65,70,75,80,85,90,95,100,105,110,115,120,125],"range":["#ffffff","#ff88ff","#d070f0","#b855ff","#8c33ff","#7014ff","#aaffff","#88ccff","#5a99ff","#3366ff","#0033ff","#bbffbb","#88ff88","#66ff66","#33ff33","#00ff00","#ffff00","#ffcc00","#ff9900","#ff6600","#ff4000","#ff0000","#d40010","#aa0020","#880030","#600040","#000000"]}}}},
{"data":{"name":"scale"},"mark":{"type":"rect"},"encoding":{"x":{"field":"l","type":"quantitative","scale":{"domain":[0,125],"range":[94.3,528.7],"nice":false,"zero":false},"axis":{"orient":"top","offset":129.7,"values":[0,25,50,75,100,125],"tickSize":8.6,"labelFontSize":21,"labelPadding":0,"title":"Ozone (ppbv)","titleFontSize":21.5,"titlePadding":13}},"x2":{"field":"h"},"y":{"field":"p","type":"quantitative","scale":{"domain":[0,1],"range":[-94.9,-120.3]},"axis":null},"y2":{"field":"q"},"color":{"field":"o","type":"quantitative","legend":null,"scale":{"type":"threshold","domain":[0,5,10,15,20,25,30,35,40,45,50,55,60,65,70,75,80,85,90,95,100,105,110,115,120,125],"range":["#ffffff","#ff88ff","#d070f0","#b855ff","#8c33ff","#7014ff","#aaffff","#88ccff","#5a99ff","#3366ff","#0033ff","#bbffbb","#88ff88","#66ff66","#33ff33","#00ff00","#ffff00","#ffcc00","#ff9900","#ff6600","#ff4000","#ff0000","#d40010","#aa0020","#880030","#600040","#000000"]}}}},
{"data":{"name":"frame"},"mark":{"type":"rect","fill":"transparent","stroke":"black","strokeWidth":2},"encoding":{"x":{"field":"l","type":"quantitative","scale":{"domain":[0,125],"range":[94.3,528.7],"nice":false,"zero":false},"axis":null},"x2":{"field":"h"},"y":{"field":"p","type":"quantitative","scale":{"domain":[0,1],"range":[-94.9,-120.3]},"axis":null},"y2":{"field":"q"}}},
{"data":{"name":"x0"},"mark":{"type":"rule","opacity":0},"encoding":{"x":{"field":"t","type":"quantitative","scale":{"domain":[0,622],"nice":false,"zero":false},"axis":{"orient":"top","offset":45.3,"values":[50.7,205.3,359.7,514.7],"tickSize":17,"labelPadding":-1,"labelExpr":"datum.value<100?'15:00':datum.value<300?'16:00':datum.value<400?'17:00':'18:00'","title":"UT","titleX":688,"titleY":-26.7,"titleBaseline":"middle","titleAlign":"center","titleAngle":0}}}},
{"data":{"name":"x0"},"mark":{"type":"rule","opacity":0},"encoding":{"x":{"field":"t","type":"quantitative","scale":{"domain":[0,622],"nice":false,"zero":false},"axis":{"orient":"top","offset":45.3,"domain":false,"values":[25.7,76.3,103,128.3,154,180.3,230.3,256.3,282,308,333.7,385,411,437,462.3,488.7,539.7,564.7,590,616.3],"tickSize":9,"labels":false,"title":null}}}},
{"data":{"name":"x0"},"mark":{"type":"rule","opacity":0},"encoding":{"x":{"field":"t","type":"quantitative","scale":{"domain":[0,622],"nice":false,"zero":false},"axis":{"orient":"top","offset":-406.7,"values":[50.7,205.3,359.7,514.7],"tickSize":17,"labelPadding":0,"labelExpr":"datum.value<100?'74.47':datum.value<300?'69.07':datum.value<400?'63.12':'57.83'","title":"N Lat","titleX":696,"titleY":-27.7,"titleBaseline":"middle","titleAlign":"center","titleAngle":0}}}},
{"data":{"name":"x0"},"mark":{"type":"rule","opacity":0},"encoding":{"x":{"field":"t","type":"quantitative","scale":{"domain":[0,622],"nice":false,"zero":false},"axis":{"orient":"top","offset":-406.7,"domain":false,"values":[25.7,76.3,103,128.3,154,180.3,230.3,256.3,282,308,333.7,385,411,437,462.3,488.7,539.7,564.7,590,616.3],"tickSize":9,"labels":false,"title":null}}}},
{"data":{"name":"x0"},"mark":{"type":"rule","opacity":0},"encoding":{"x":{"field":"t","type":"quantitative","scale":{"domain":[0,622],"nice":false,"zero":false},"axis":{"orient":"bottom","offset":62.7,"domain":false,"values":[50.7,205.3,359.7,514.7],"tickSize":17,"labelPadding":13,"labelExpr":"datum.value<100?'-80.30':datum.value<300?'-95.15':datum.value<400?'-103.02':'-111.12'","title":"E Lon","titleX":696,"titleY":39.3,"titleBaseline":"middle","titleAlign":"center","titleAngle":0}}}},
{"data":{"name":"x0"},"mark":{"type":"rule","opacity":0},"encoding":{"x":{"field":"t","type":"quantitative","scale":{"domain":[0,622],"nice":false,"zero":false},"axis":{"orient":"bottom","offset":62.7,"domain":false,"values":[25.7,76.3,103,128.3,154,180.3,230.3,256.3,282,308,333.7,385,411,437,462.3,488.7,539.7,564.7,590,616.3],"tickSize":8,"labels":false,"title":null}}}},
{"data":{"name":"y0"},"mark":{"type":"rule","opacity":0},"encoding":{"y":{"field":"k","type":"quantitative","scale":{"domain":[0,16],"nice":false},"axis":{"orient":"left","offset":17,"values":[0,2,4,6,8,10,12,14,16],"tickSize":17,"labelPadding":5,"title":"Altitude, km ASL","titleFontSize":18.5,"titleX":-68,"titleY":171,"titleAngle":-90,"titleAlign":"center","titleBaseline":"middle"}}}},
{"data":{"name":"y0"},"mark":{"type":"rule","opacity":0},"encoding":{"y":{"field":"k","type":"quantitative","scale":{"domain":[0,16],"nice":false},"axis":{"orient":"left","offset":17,"domain":false,"values":[1,3,5,7,9,11,13,15],"tickSize":9,"labels":false,"title":null}}}},
{"data":{"name":"y0"},"mark":{"type":"rule","opacity":0},"encoding":{"y":{"field":"k","type":"quantitative","scale":{"domain":[0,16],"nice":false},"axis":{"orient":"right","offset":17,"values":[0,2,4,6,8,10,12,14,16],"tickSize":19,"labelPadding":5,"title":null}}}},
{"data":{"name":"y0"},"mark":{"type":"rule","opacity":0},"encoding":{"y":{"field":"k","type":"quantitative","scale":{"domain":[0,16],"nice":false},"axis":{"orient":"right","offset":17,"domain":false,"values":[1,3,5,7,9,11,13,15],"tickSize":10,"labels":false,"title":null}}}}
]}
